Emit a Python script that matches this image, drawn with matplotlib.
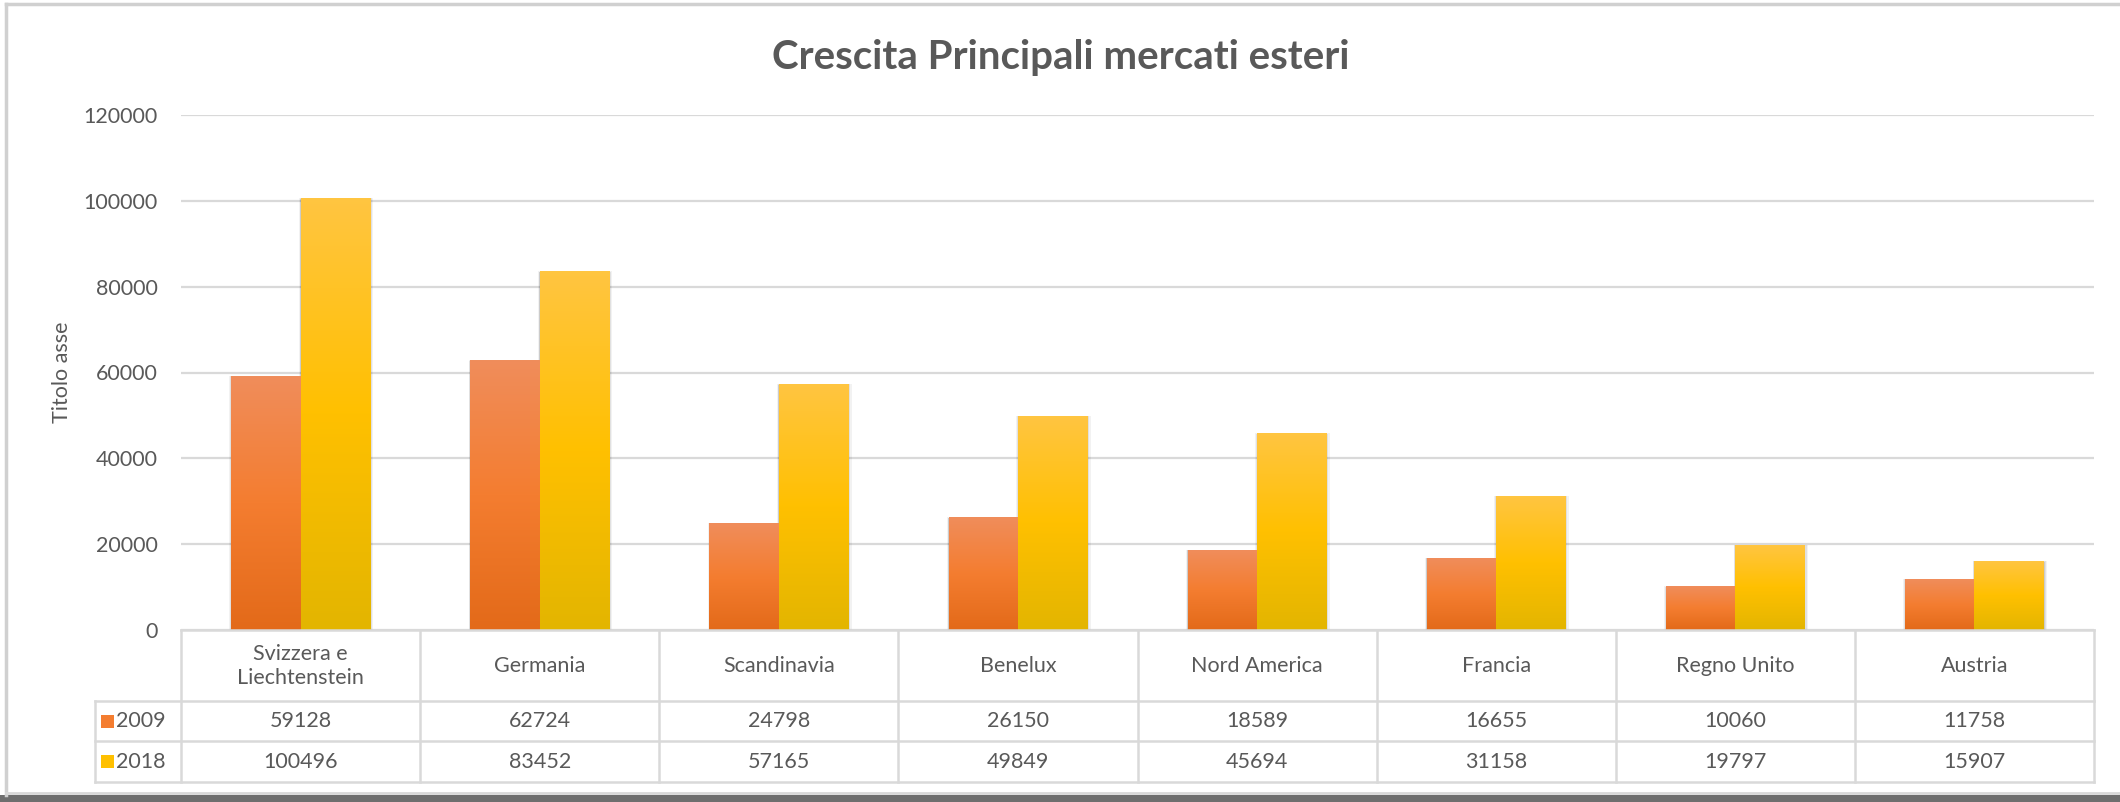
import numpy as np
import matplotlib
matplotlib.use("Agg")
import matplotlib.pyplot as plt
from matplotlib.transforms import Affine2D, blended_transform_factory
from matplotlib.patches import Rectangle
from matplotlib.lines import Line2D

# ---------------- data ----------------
categories = ["Svizzera e\nLiechtenstein", "Germania", "Scandinavia", "Benelux",
              "Nord America", "Francia", "Regno Unito", "Austria"]
series_names = ["2009", "2018"]
values_2009 = [59128, 62724, 24798, 26150, 18589, 16655, 10060, 11758]
values_2018 = [100496, 83452, 57165, 49849, 45694, 31158, 19797, 15907]
y_ticks = [0, 20000, 40000, 60000, 80000, 100000, 120000]
title = "Crescita Principali mercati esteri"
y_label = "Titolo asse"

# ---------------- style ----------------
W, H = 2120, 802
TXT = "#595959"
GRID = "#D9D9D9"
plt.rcParams["font.family"] = ["Lato", "DejaVu Sans"]

orange_stops = [(0.941, 0.553, 0.357), (0.957, 0.490, 0.188), (0.890, 0.415, 0.098)]
yellow_stops = [(1.0, 0.773, 0.255), (1.0, 0.753, 0.0), (0.890, 0.710, 0.0)]

fig = plt.figure(figsize=(W / 100, H / 100), dpi=100)
fig.patch.set_facecolor("white")
px = Affine2D().scale(1 / W, -1 / H).translate(0, 1) + fig.transFigure

L, R, T, B = 181, 2094, 115, 630
ax = fig.add_axes([L / W, (H - B) / H, (R - L) / W, (B - T) / H])
ax.set_facecolor("none")
n = len(categories)
ax.set_xlim(-0.5, n - 0.5)
ax.set_ylim(0, 120000)
for s in ax.spines.values():
    s.set_visible(False)
ax.set_xticks([])
ax.set_yticks(y_ticks)
ax.tick_params(axis="y", length=0, pad=17, labelsize=15.5, labelcolor=TXT)
ax.yaxis.grid(True, color=GRID, lw=1.6, zorder=0)
ax.set_axisbelow(True)
ax.set_ylabel(y_label, fontsize=15.5, color=TXT, labelpad=8)

x = np.arange(n)
bw = 0.29


def gradient(stops, N=256):
    t = np.linspace(0, 1, N)
    c = np.array(stops)
    out = np.empty((N, 1, 3))
    for k in range(3):
        out[:, 0, k] = np.interp(t, [0, 0.5, 1], c[:, k])
    return out


bars1 = ax.bar(x - bw / 2, values_2009, width=bw, color=orange_stops[1], zorder=3)
bars2 = ax.bar(x + bw / 2, values_2018, width=bw, color=yellow_stops[1], zorder=3)

# soft shadow + gradient fill
for bars, stops in ((bars1, orange_stops), (bars2, yellow_stops)):
    g = gradient(stops)
    for p in bars:
        x0, w, h = p.get_x(), p.get_width(), p.get_height()
        for k, a in ((0.018, 0.05), (0.010, 0.07), (0.004, 0.09)):
            ax.add_patch(Rectangle((x0 - k * 0.4, 0), w + k * 1.2, h + 120000 * k * 0.05,
                                   facecolor="black", alpha=a, lw=0, zorder=2))
        ax.imshow(g, extent=[x0, x0 + w, 0, h], aspect="auto", zorder=4,
                  interpolation="bilinear")
ax.set_xlim(-0.5, n - 0.5)
ax.set_ylim(0, 120000)

# ---------------- data table ----------------
TL = 95
rows_y = [630, 701, 741, 782]
lw = 1.8
for i, yy in enumerate(rows_y):
    x_start = L if i == 0 else TL
    fig.add_artist(Line2D([x_start, R], [yy, yy], transform=px, color=GRID, lw=lw))
colw = (R - L) / n
for i in range(n + 1):
    xx = L + i * colw
    fig.add_artist(Line2D([xx, xx], [rows_y[0], rows_y[-1]], transform=px, color=GRID, lw=lw))
fig.add_artist(Line2D([TL, TL], [rows_y[1], rows_y[-1]], transform=px, color=GRID, lw=lw))

bt = blended_transform_factory(ax.transData, px)
hdr_c = (rows_y[0] + rows_y[1]) / 2
for i, c in enumerate(categories):
    fig.text(x[i], hdr_c, c, transform=bt, ha="center", va="center",
             fontsize=15.5, color=TXT, linespacing=1.25)
for r, (vals, stops, name) in enumerate(((values_2009, orange_stops, series_names[0]),
                                         (values_2018, yellow_stops, series_names[1]))):
    cy = (rows_y[r + 1] + rows_y[r + 2]) / 2
    for i, v in enumerate(vals):
        fig.text(x[i], cy, f"{v}", transform=bt, ha="center", va="center",
                 fontsize=15.5, color=TXT)
    fig.add_artist(Rectangle((101, cy - 6.5), 13, 13, transform=px,
                             facecolor=stops[1], lw=0))
    fig.text(116, cy, name, transform=px, ha="left", va="center",
             fontsize=15.5, color=TXT)

# ---------------- title & frame ----------------
fig.text(1061, 57, title, transform=px, ha="center", va="center",
         fontsize=29, fontweight="bold", color=TXT)

fig.add_artist(Line2D([6, W], [4, 4], transform=px, color="#D0D0D0", lw=2.5))
fig.add_artist(Line2D([6, 6], [4, 795], transform=px, color="#D0D0D0", lw=2.5))
fig.add_artist(Line2D([6, W], [793, 793], transform=px, color="#D8D8D8", lw=2))
fig.add_artist(Rectangle((0, 795), W, 7, transform=px, facecolor="#6E6E6E", lw=0))

fig.savefig("out.png", dpi=100)
